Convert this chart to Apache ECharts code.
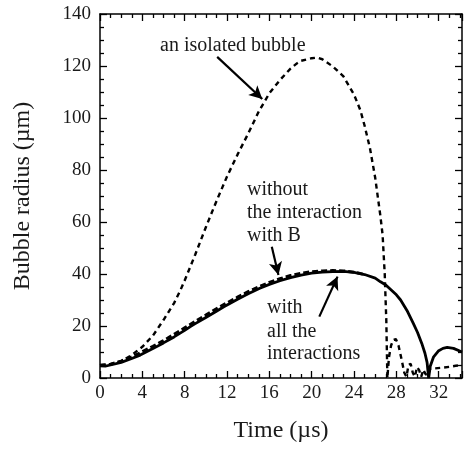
<!DOCTYPE html>
<html>
<head>
<meta charset="utf-8">
<script src="https://cdn.jsdelivr.net/npm/echarts@6/dist/echarts.min.js"></script>
<style>
html, body { margin: 0; padding: 0; background: #fff; }
#main { width: 464px; height: 451px; }
</style>
</head>
<body>
<div id="main"></div>
<script>
// bubble radius vs time

var isolatedT = [0, 1, 2, 3, 4, 5, 6, 7, 7.6, 8, 9, 10, 11, 12, 13, 14, 15, 16, 17, 18, 18.6, 19, 20, 20.5, 21, 22, 23, 24, 24.6, 25, 25.5, 26, 26.5, 26.7, 26.9, 27.05, 27.15,
    27.3, 27.5, 27.7, 27.95, 28.2, 28.5, 28.75, 28.95, 29.15, 29.35, 29.55, 29.75, 29.95, 30.15, 30.35, 30.55, 30.75, 30.95, 31.2, 31.6, 32.2, 33, 33.6, 34.2];
var isolatedR = [5, 5.3, 6.5, 8.8, 12, 16.3, 22.3, 28.8, 33.8, 37.5, 47.5, 58, 68, 77.5, 86, 94, 102.5, 109.5, 114.6, 119, 121, 122, 123, 123.2, 122.6, 119.8, 116, 109, 103, 97, 88.5, 77, 62, 55, 40, 22, 0,
    8, 12.5, 14.6, 15, 12.5, 7, 2, 0.5, 5, 5.5, 2, 0.5, 4.2, 3, 0.5, 3.2, 1.5, 1, 3.5, 3.7, 3.9, 4.3, 4.7, 5];

var allT = [0, 0.5, 1, 2, 3, 3.8, 5, 6, 7, 8, 8.5, 9, 10, 11, 11.7, 13, 14, 15.1, 16, 17, 18, 19, 20, 21, 22, 23, 24, 25, 26, 26.5, 27, 28, 28.4, 29, 29.6, 30, 30.4, 30.7, 30.9, 31.05,
    31.2, 31.5, 32, 32.4, 32.8, 33.4, 34.2];
var allR = [4.7, 4.6, 5, 6, 7.5, 8.8, 11.3, 13.5, 15.8, 18.3, 19.7, 20.9, 23.3, 25.7, 27.4, 30.3, 32.4, 34.5, 36, 37.4, 38.6, 39.6, 40.3, 40.7, 40.9, 41, 40.6, 39.8, 38.4, 37, 35.8, 32, 30, 26, 21, 17.5, 13.3, 9.5, 6, 0,
    4.5, 8, 10.5, 11.4, 11.8, 11.4, 10];

var noBT = [0, 1, 2, 3, 4, 5, 6, 7, 8, 9, 10, 11, 12, 13, 14, 15, 16, 17, 18, 19, 20, 21, 22, 23, 24, 25];
var noBR = [4.8, 5.3, 6.5, 8.1, 10.1, 12.2, 14.4, 16.8, 19.3, 21.8, 24.2, 26.6, 28.9, 31.1, 33.2, 35.1, 36.8, 38.2, 39.4, 40.3, 40.9, 41.2, 41.3, 41.2, 40.7, 39.8];

var xTicks = [0, 4, 8, 12, 16, 20, 24, 28, 32];

function pairs(t, r) {
    var out = [];
    for (var i = 0; i < t.length; i++) out.push([t[i], r[i]]);
    return out;
}

var FONT = 'Liberation Serif';
var INK = '#1a1a1a';

var myChart = echarts.init(document.getElementById('main'));

var axisLine = { show: true, onZero: false, lineStyle: { color: '#000', width: 1.5 } };

var option = {
    animation: false,
    backgroundColor: '#fff',
    grid: { left: 100, right: 2, top: 14, bottom: 73, outerBoundsMode: 'none' },
    xAxis: [
        {
            type: 'value', min: 0, max: 34.2, interval: 4,
            name: 'Time (\u00b5s)', nameLocation: 'middle', nameGap: 41,
            nameTextStyle: { fontFamily: FONT, fontSize: 24, color: INK },
            axisLine: axisLine,
            axisTick: { inside: true, length: 7, lineStyle: { color: '#000', width: 1.3 } },
            minorTick: { show: true, splitNumber: 4, length: 4, lineStyle: { color: '#000', width: 1.3 } },
            splitLine: { show: false },
            axisLabel: {
                fontFamily: FONT, fontSize: 19, color: INK, margin: 6,
                showMaxLabel: false,
                formatter: function(v) { return xTicks.indexOf(v) >= 0 ? String(v) : ''; }
            }
        },
        {
            type: 'value', position: 'top', min: 0, max: 34.2, interval: 4,
            axisLine: axisLine,
            axisTick: { inside: true, length: 7, lineStyle: { color: '#000', width: 1.3 } },
            minorTick: { show: true, splitNumber: 4, length: 4, lineStyle: { color: '#000', width: 1.3 } },
            splitLine: { show: false },
            axisLabel: { show: false }
        }
    ],
    yAxis: [
        {
            type: 'value', min: 0, max: 140, interval: 20,
            name: 'Bubble radius (\u00b5m)', nameLocation: 'middle', nameGap: 65, nameRotate: 90,
            nameTextStyle: { fontFamily: FONT, fontSize: 24, color: INK },
            axisLine: axisLine,
            axisTick: { inside: true, length: 7, lineStyle: { color: '#000', width: 1.3 } },
            minorTick: { show: true, splitNumber: 4, length: 4, lineStyle: { color: '#000', width: 1.3 } },
            splitLine: { show: false },
            axisLabel: { fontFamily: FONT, fontSize: 19, color: INK, margin: 9 }
        },
        {
            type: 'value', position: 'right', min: 0, max: 140, interval: 20,
            axisLine: axisLine,
            axisTick: { inside: true, length: 7, lineStyle: { color: '#000', width: 1.3 } },
            minorTick: { show: true, splitNumber: 4, length: 4, lineStyle: { color: '#000', width: 1.3 } },
            splitLine: { show: false },
            axisLabel: { show: false }
        }
    ],
    series: [
        {
            name: 'without the interaction with B',
            type: 'line', showSymbol: false, silent: true,
            data: pairs(noBT, noBR),
            lineStyle: { color: '#000', width: 3, type: [6, 3] }
        },
        {
            name: 'an isolated bubble',
            type: 'line', showSymbol: false, silent: true,
            data: pairs(isolatedT, isolatedR),
            lineStyle: { color: '#000', width: 2.4, type: [5, 4] }
        },
        {
            name: 'with all the interactions',
            type: 'line', showSymbol: false, silent: true,
            data: pairs(allT, allR),
            lineStyle: { color: '#000', width: 2.8 },
            markLine: {
                silent: true,
                symbol: ['none', 'arrow'],
                symbolSize: [10, 13],
                label: { show: false },
                lineStyle: { color: '#000', width: 2.2, type: 'solid' },
                data: [
                    [{ coord: [11.07, 123.5] }, { coord: [15.33, 107.3] }],
                    [{ coord: [16.23, 50.5] }, { coord: [16.86, 39.6] }],
                    [{ coord: [20.72, 23.6] }, { coord: [22.44, 39] }]
                ]
            }
        }
    ],
    graphic: [
        { type: 'text', left: 160, top: 36, style: { text: 'an isolated bubble', font: '20px ' + FONT, fill: INK } },
        { type: 'text', left: 247, top: 180, style: { text: 'without', font: '20px ' + FONT, fill: INK } },
        { type: 'text', left: 247, top: 203, style: { text: 'the interaction', font: '20px ' + FONT, fill: INK } },
        { type: 'text', left: 247, top: 226, style: { text: 'with B', font: '20px ' + FONT, fill: INK } },
        { type: 'text', left: 267, top: 298, style: { text: 'with', font: '20px ' + FONT, fill: INK } },
        { type: 'text', left: 267, top: 322, style: { text: 'all the', font: '20px ' + FONT, fill: INK } },
        { type: 'text', left: 267, top: 344, style: { text: 'interactions', font: '20px ' + FONT, fill: INK } }
    ]
};

myChart.setOption(option);
</script>
</body>
</html>
